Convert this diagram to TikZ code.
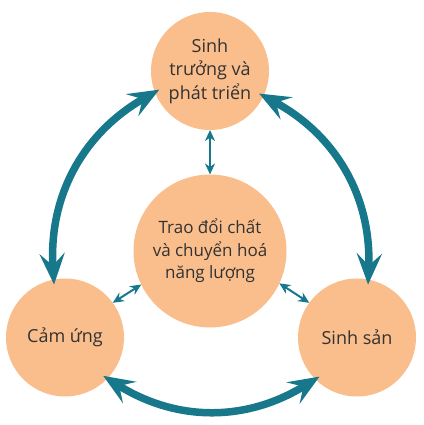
\documentclass[tikz,border=0pt]{standalone}
\usepackage{fontspec}
\setmainfont{Open Sans}
\usetikzlibrary{arrows.meta}
\usetikzlibrary{positioning}
\definecolor{peach}{RGB}{250,190,140}
\definecolor{cycleteal}{RGB}{22,120,138}
\definecolor{textgray}{RGB}{50,50,50}

\begin{document}
\begin{tikzpicture}[
				x=1pt, y=1pt,
				node distance=44pt,
				bubble/.style={circle, fill=peach, minimum size=118pt, inner sep=0pt, outer sep=0pt,
					align=center, text=textgray, font=\fontsize{18}{23.5}\selectfont},
				hub/.style={bubble, minimum size=153pt, font=\fontsize{17}{22.5}\selectfont},
				cyclearrow/.style={line width=7.5pt, cycleteal,
					{Stealth[length=31pt,width=25pt,inset=12pt]}-{Stealth[length=31pt,width=25pt,inset=12pt]},
					shorten <=-5pt, shorten >=-5pt},
				link/.style={line width=2pt, cycleteal,
					{Stealth[length=11pt,width=10pt,inset=3.5pt]}-{Stealth[length=11pt,width=10pt,inset=3.5pt]}},
			]
				\useasboundingbox (0,0) rectangle (423,425);
				\node (trao) [hub] at (210,174) {Trao đổi chất\\và chuyển hoá\\năng lượng};
				\node (sinhtruong) [bubble, above=44.5pt of trao] {Sinh\\trưởng và\\phát triển};
				\node (camung) [bubble] at (65,87.5) {Cảm ứng};
				\node (sinhsan) [bubble, right=174pt of camung] {Sinh sản};
				
				\draw[cyclearrow] (camung.101) to[bend left=32] (sinhtruong.201);
				\draw[cyclearrow] (sinhtruong.335) to[bend left=32] (sinhsan.79);
				\draw[cyclearrow] (sinhsan.225) to[bend left=32] (camung.316);
				
				\draw[link] (sinhtruong.south) -- (trao.north);
				\draw[link] (camung.36) -- (trao.206);
				\draw[link] (trao.335) -- (sinhsan.144);
			\end{tikzpicture}
\end{document}
